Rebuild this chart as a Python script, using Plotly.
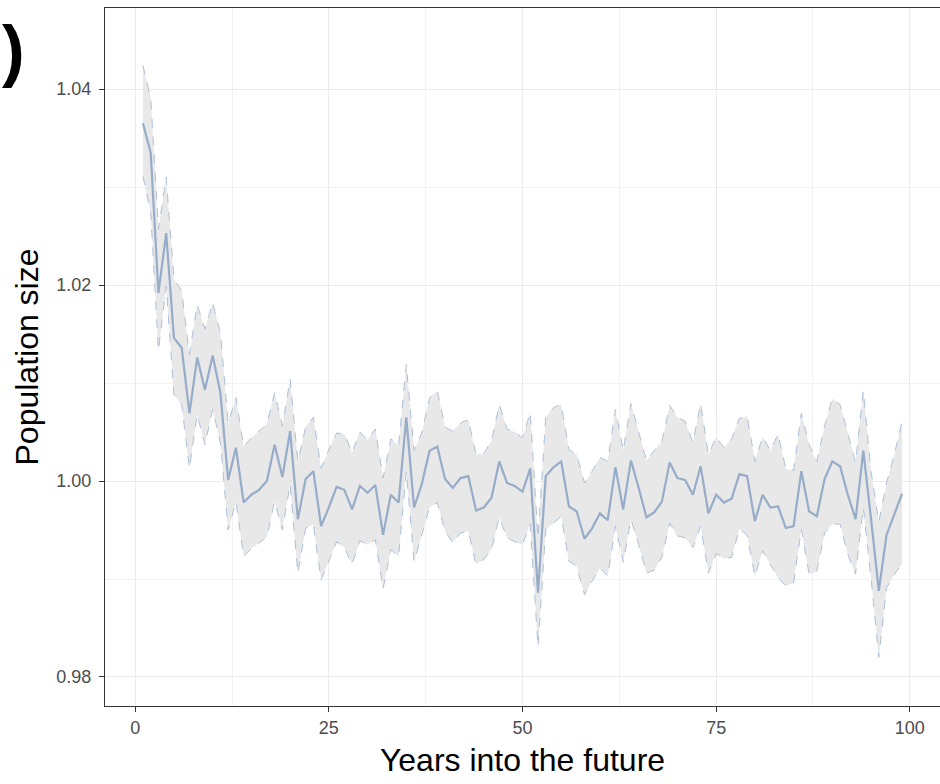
import plotly.graph_objects as go

years = list(range(1, 100))

mean_pop = [
    1.0365, 1.0335, 1.0192, 1.0253, 1.0146, 1.0136, 1.0069, 1.0126, 1.0093, 1.0128,
    1.0090, 1.0001, 1.0034, 0.9978, 0.9986, 0.9991, 1.0000, 1.0037, 1.0004, 1.0051,
    0.9961, 1.0002, 1.0010, 0.9954, 0.9973, 0.9994, 0.9991, 0.9971, 0.9995, 0.9988,
    0.9996, 0.9945, 0.9986, 0.9978, 1.0065, 0.9973, 0.9997, 1.0031, 1.0035, 1.0002,
    0.9993, 1.0003, 1.0005, 0.9970, 0.9973, 0.9983, 1.0020, 0.9998, 0.9995, 0.9989,
    1.0013, 0.9886, 1.0005, 1.0014, 1.0020, 0.9974, 0.9969, 0.9941, 0.9952, 0.9967,
    0.9960, 1.0014, 0.9971, 1.0021, 0.9993, 0.9963, 0.9968, 0.9979, 1.0019, 1.0003,
    1.0001, 0.9986, 1.0015, 0.9967, 0.9986, 0.9978, 0.9982, 1.0007, 1.0005, 0.9959,
    0.9986, 0.9973, 0.9974, 0.9952, 0.9954, 1.0010, 0.9969, 0.9964, 1.0002, 1.0020,
    1.0015, 0.9986, 0.9961, 1.0031, 0.9961, 0.9888, 0.9945, 0.9967, 0.9987,
]

upper_pop = [
    1.0424, 1.0391, 1.0257, 1.0310, 1.0206, 1.0194, 1.0129, 1.0180, 1.0155, 1.0182,
    1.0151, 1.0059, 1.0085, 1.0035, 1.0044, 1.0051, 1.0058, 1.0090, 1.0056, 1.0104,
    1.0020, 1.0055, 1.0065, 1.0013, 1.0032, 1.0049, 1.0048, 1.0029, 1.0050, 1.0042,
    1.0053, 1.0003, 1.0043, 1.0036, 1.0119, 1.0031, 1.0049, 1.0085, 1.0092, 1.0055,
    1.0051, 1.0059, 1.0063, 1.0027, 1.0028, 1.0041, 1.0078, 1.0053, 1.0050, 1.0044,
    1.0070, 0.9942, 1.0065, 1.0075, 1.0078, 1.0032, 1.0027, 0.9998, 1.0010, 1.0024,
    1.0020, 1.0073, 1.0031, 1.0079, 1.0051, 1.0021, 1.0031, 1.0040, 1.0077, 1.0065,
    1.0061, 1.0039, 1.0079, 1.0027, 1.0045, 1.0034, 1.0043, 1.0064, 1.0066, 1.0020,
    1.0045, 1.0031, 1.0048, 1.0012, 1.0011, 1.0069, 1.0037, 1.0020, 1.0056, 1.0084,
    1.0078, 1.0048, 1.0019, 1.0092, 1.0010, 0.9958, 0.9998, 1.0027, 1.0061,
]

lower_pop = [
    1.0311, 1.0274, 1.0133, 1.0199, 1.0088, 1.0078, 1.0013, 1.0068, 1.0037, 1.0073,
    1.0039, 0.9950, 0.9979, 0.9923, 0.9931, 0.9937, 0.9943, 0.9979, 0.9950, 0.9997,
    0.9906, 0.9952, 0.9956, 0.9899, 0.9918, 0.9938, 0.9932, 0.9915, 0.9939, 0.9935,
    0.9940, 0.9890, 0.9930, 0.9923, 1.0010, 0.9918, 0.9945, 0.9973, 0.9978, 0.9949,
    0.9937, 0.9947, 0.9949, 0.9915, 0.9920, 0.9930, 0.9963, 0.9942, 0.9938, 0.9935,
    0.9956, 0.9831, 0.9951, 0.9957, 0.9964, 0.9918, 0.9913, 0.9884, 0.9898, 0.9911,
    0.9903, 0.9954, 0.9917, 0.9961, 0.9935, 0.9906, 0.9909, 0.9922, 0.9957, 0.9944,
    0.9942, 0.9932, 0.9954, 0.9906, 0.9926, 0.9921, 0.9922, 0.9951, 0.9945, 0.9903,
    0.9929, 0.9915, 0.9901, 0.9893, 0.9896, 0.9951, 0.9905, 0.9908, 0.9947, 0.9956,
    0.9956, 0.9925, 0.9905, 0.9973, 0.9901, 0.9820, 0.9891, 0.9905, 0.9915,
]

x_tickvals = [0, 25, 50, 75, 100]
y_tickvals = [0.98, 1.00, 1.02, 1.04]

band_line = "#adc0d9"
mean_line = "#97acc9"
fill_col = "#e8e8e8"

fig = go.Figure()
fig.add_trace(go.Scatter(
    x=years, y=lower_pop, mode="lines",
    line=dict(color=band_line, width=1, dash="dash"),
    showlegend=False, hoverinfo="skip"))
fig.add_trace(go.Scatter(
    x=years, y=upper_pop, mode="lines", fill="tonexty", fillcolor=fill_col,
    line=dict(color=band_line, width=1, dash="dash"),
    showlegend=False, hoverinfo="skip"))
fig.add_trace(go.Scatter(
    x=years, y=mean_pop, mode="lines",
    line=dict(color=mean_line, width=2.2),
    showlegend=False))

font_family = "Liberation Sans, Arial, sans-serif"

fig.update_layout(
    width=940, height=784,
    margin=dict(l=105, r=0, t=8, b=78),
    paper_bgcolor="white", plot_bgcolor="white",
    font=dict(family=font_family),
    xaxis=dict(
        range=[-3.9, 103.9], tickvals=x_tickvals,
        ticktext=[str(v) for v in x_tickvals],
        showgrid=True, gridcolor="#ebebeb", gridwidth=1.2,
        minor=dict(dtick=12.5, tick0=0, showgrid=True, gridcolor="#f2f2f2", gridwidth=0.8, ticks=""),
        zeroline=False,
        showline=True, linecolor="#333333", linewidth=1, mirror=True,
        ticks="outside", ticklen=5, tickcolor="#333333",
        tickfont=dict(size=18, color="#4d4d4d"),
        title=dict(text="Years into the future", font=dict(size=32, color="black"), standoff=12),
    ),
    yaxis=dict(
        range=[0.97704, 1.04827], tickvals=y_tickvals,
        ticktext=["%.2f" % v for v in y_tickvals],
        showgrid=True, gridcolor="#ebebeb", gridwidth=1.2,
        minor=dict(dtick=0.01, tick0=0.98, showgrid=True, gridcolor="#f2f2f2", gridwidth=0.8, ticks=""),
        zeroline=False,
        showline=True, linecolor="#333333", linewidth=1, mirror=True,
        ticks="outside", ticklen=5, tickcolor="#333333",
        tickfont=dict(size=18, color="#4d4d4d"),
        ticklabelstandoff=4,
        title=dict(text="Population size", font=dict(size=32, color="black"), standoff=8),
    ),
    annotations=[dict(
        text="<b>)</b>", xref="paper", yref="paper",
        x=-0.110, y=0.94, xanchor="center", yanchor="middle", showarrow=False,
        font=dict(size=68, color="black", family=font_family),
    )],
)

fig.write_html(
    "out.html",
    config={"displayModeBar": False},
    post_script="document.body.style.margin='0';document.body.style.overflow='hidden';",
)
